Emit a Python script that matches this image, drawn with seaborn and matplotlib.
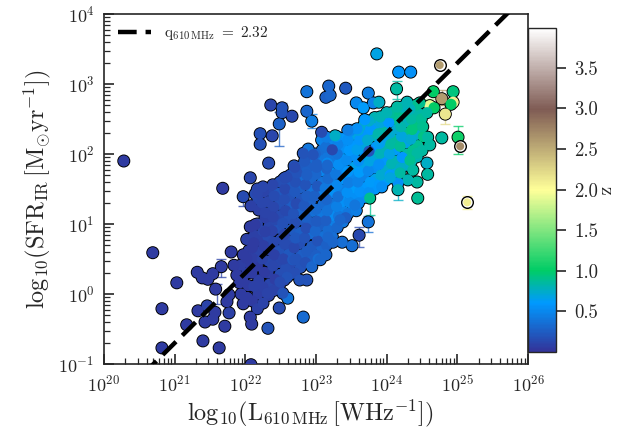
import numpy as np
import pandas as pd
import seaborn as sns
import matplotlib.pyplot as plt
from matplotlib import cm
from matplotlib.colors import Normalize
from matplotlib.ticker import LogLocator, NullFormatter

# log10(L_610MHz), log10(SFR_IR), redshift
log_l = [
    22.03, 22.04, 22.02, 22.03, 22.05, 22.02,
    22.18, 22.19, 22.17, 22.18, 22.2, 22.17, 22.19, 22.18, 22.17,
    22.33, 22.34, 22.32, 22.33, 22.35, 22.32, 22.34, 22.33, 22.32, 22.34,
    22.48, 22.49, 22.47, 22.48, 22.5, 22.47, 22.49, 22.48, 22.47, 22.49,
    22.63, 22.64, 22.62, 22.63, 22.65, 22.62, 22.64, 22.63, 22.62, 22.64,
    22.78, 22.79, 22.77, 22.78, 22.8, 22.77, 22.79, 22.78, 22.77, 22.79,
    22.93, 22.94, 22.92, 22.93, 22.95, 22.92, 22.94, 22.93, 22.92, 22.94,
    23.08, 23.09, 23.07, 23.08, 23.1, 23.07, 23.09, 23.08, 23.07, 23.09, 23.08,
    23.23, 23.24, 23.22, 23.23, 23.25, 23.22, 23.24, 23.23, 23.22, 23.24,
    23.38, 23.39, 23.37, 23.38, 23.4, 23.37, 23.39, 23.38, 23.37,
    23.53, 23.54, 23.52, 23.53, 23.55, 23.52, 23.54, 23.53,
    23.68, 23.69, 23.67, 23.68, 23.7, 23.67, 23.69, 23.68,
    23.83, 23.84, 23.82, 23.83, 23.85, 23.82, 23.84, 23.83,
    23.98, 23.99, 23.97, 23.98, 24.0, 23.97, 23.99,
    24.13, 24.14, 24.12, 24.13, 24.15, 24.12, 24.14,
    24.28, 24.29, 24.27, 24.28, 24.3, 24.27, 24.29,
    24.43, 24.44, 24.42, 24.43, 24.45, 24.42,
    21.94, 21.96, 21.93, 21.97,
    22.1, 22.12, 22.09, 22.11, 22.1, 22.13,
    22.25, 22.27, 22.24, 22.26, 22.25, 22.28, 22.24, 22.26,
    22.4, 22.42, 22.39, 22.41, 22.4, 22.38, 22.42, 22.4, 22.41, 22.39,
    22.55, 22.57, 22.54, 22.56, 22.55, 22.53, 22.57, 22.55, 22.56, 22.54,
    22.7, 22.72, 22.69, 22.71, 22.7, 22.68, 22.72, 22.7, 22.71, 22.69,
    22.85, 22.87, 22.84, 22.86, 22.85, 22.83, 22.87, 22.85, 22.86, 22.84,
    23.0, 23.02, 22.99, 23.01, 23.0, 22.98, 23.02, 23.0, 23.01, 22.99,
    23.15, 23.17, 23.14, 23.16, 23.15, 23.13, 23.17, 23.15, 23.16, 23.14, 23.15,
    23.3, 23.32, 23.29, 23.31, 23.3, 23.28, 23.32, 23.3, 23.31, 23.29,
    23.45, 23.47, 23.44, 23.46, 23.45, 23.43, 23.47, 23.45,
    23.6, 23.62, 23.59, 23.61, 23.6, 23.58, 23.62, 23.6,
    23.75, 23.77, 23.74, 23.76, 23.75, 23.73, 23.77, 23.75,
    23.9, 23.92, 23.89, 23.91, 23.9, 23.88, 23.92,
    24.05, 24.07, 24.04, 24.06, 24.05, 24.03, 24.07,
    24.2, 24.22, 24.19, 24.21, 24.2, 24.18, 24.22,
    24.35, 24.37, 24.34, 24.36, 24.35, 24.33,
    24.5, 24.52, 24.49,
    20.28, 22.36, 22.52, 22.52, 22.66, 22.48, 22.21, 22.38, 22.21, 22.87,
    22.87, 22.94, 22.33, 22.69, 22.07, 21.68, 21.97, 22.08, 22.14, 22.07,
    22.14, 22.28, 22.12, 20.69, 21.8, 21.03, 21.32, 21.39, 21.47, 21.54,
    21.66, 21.84, 21.88, 21.58, 21.77, 21.46, 21.74, 20.82, 21.33, 21.57,
    21.77, 21.17, 21.43, 21.54, 21.71, 21.4, 20.82, 21.63, 22.07, 22.09,
    22.32, 22.08, 21.97, 22.17, 22.48, 22.6, 22.82, 22.77, 22.87, 22.94,
    23.03, 22.67, 23.86, 24.17, 24.34, 24.14, 23.18, 23.42, 23.14, 23.2,
    23.74, 23.57, 23.67, 23.81, 23.89, 24.66, 24.94, 24.78, 24.94, 24.91,
    24.61, 24.67, 24.83, 24.78, 25.01, 24.58, 24.43, 24.3, 24.16, 24.44,
    24.16, 23.74, 23.61, 23.57, 23.51, 23.37, 23.24, 23.76, 23.14, 23.06,
    23.42, 23.27, 23.23, 23.08, 23.16, 23.48, 23.58,
    23.91, 24.0, 24.15, 24.29, 24.47, 24.57, 24.51, 24.58, 24.61, 24.43,
    24.57, 24.33, 24.37, 24.19, 24.05, 23.93, 23.69, 23.45,
    22.28, 22.39, 22.17, 22.25, 22.02, 21.92, 22.59, 22.73, 23.01, 22.89,
    22.82, 22.96, 22.87, 23.16, 22.7, 22.56,
    22.7, 22.59, 22.49, 22.53, 22.31, 22.25, 23.34, 23.17, 23.55,
]
log_sfr = [
    -0.05, 0.12, 0.3, 0.45, 0.62, 0.78,
    0.0, 0.2, 0.4, 0.6, 0.78, 1.0, 1.2, 1.35, 1.5,
    -0.02, 0.14, 0.3, 0.47, 0.63, 0.82, 0.98, 1.16, 1.32, 1.48,
    0.12, 0.28, 0.45, 0.62, 0.78, 0.94, 1.12, 1.28, 1.44, 1.6,
    0.28, 0.43, 0.58, 0.76, 0.92, 1.08, 1.26, 1.4, 1.55, 1.7,
    0.38, 0.56, 0.72, 0.88, 1.06, 1.2, 1.36, 1.52, 1.68, 1.82,
    0.5, 0.68, 0.86, 1.02, 1.18, 1.32, 1.48, 1.64, 1.8, 1.95,
    0.64, 0.82, 0.98, 1.12, 1.28, 1.44, 1.6, 1.76, 1.92, 2.06, 2.2,
    0.82, 0.98, 1.12, 1.28, 1.44, 1.58, 1.72, 1.88, 2.02, 2.16,
    1.03, 1.18, 1.32, 1.48, 1.64, 1.78, 1.92, 2.08, 2.22,
    1.22, 1.38, 1.52, 1.68, 1.82, 1.98, 2.12, 2.28,
    1.38, 1.52, 1.68, 1.82, 1.98, 2.12, 2.28, 2.42,
    1.5, 1.64, 1.8, 1.96, 2.1, 2.26, 2.4, 2.52,
    1.62, 1.78, 1.92, 2.08, 2.22, 2.38, 2.52,
    1.74, 1.9, 2.06, 2.2, 2.36, 2.5, 2.63,
    1.84, 2.0, 2.16, 2.3, 2.46, 2.6, 2.72,
    1.96, 2.12, 2.28, 2.42, 2.58, 2.7,
    0.0, 0.2, 0.41, 0.56,
    -0.1, 0.11, 0.3, 0.5, 0.66, 0.84,
    0.1, 0.31, 0.5, 0.69, 0.9, 1.09, 1.3, 1.46,
    0.05, 0.21, 0.4, 0.56, 0.74, 0.9, 1.06, 1.24, 1.4, 1.56,
    0.2, 0.36, 0.5, 0.71, 0.85, 1.01, 1.19, 1.35, 1.5, 1.64,
    0.3, 0.5, 0.66, 0.8, 1.01, 1.15, 1.29, 1.46, 1.6, 1.74,
    0.45, 0.61, 0.8, 0.94, 1.1, 1.26, 1.4, 1.56, 1.74, 1.9,
    0.55, 0.76, 0.9, 1.04, 1.21, 1.4, 1.54, 1.71, 1.85, 2.0,
    0.7, 0.91, 1.05, 1.19, 1.35, 1.51, 1.65, 1.79, 1.95, 2.1, 2.24,
    0.95, 1.11, 1.25, 1.39, 1.55, 1.71, 1.85, 2.0, 2.14, 2.25,
    1.15, 1.31, 1.45, 1.59, 1.75, 1.91, 2.05, 2.2,
    1.3, 1.46, 1.6, 1.74, 1.9, 2.06, 2.2, 2.34,
    1.45, 1.6, 1.76, 1.9, 2.04, 2.2, 2.35, 2.47,
    1.56, 1.7, 1.85, 2.01, 2.15, 2.29, 2.45,
    1.7, 1.86, 2.0, 2.14, 2.3, 2.45, 2.59,
    1.8, 1.95, 2.11, 2.25, 2.39, 2.55, 2.67,
    1.9, 2.05, 2.21, 2.35, 2.5, 2.64,
    2.05, 2.25, 2.5,
    1.9, 2.7, 2.66, 2.59, 2.54, 2.43, 2.29, 2.26, 2.14, 2.89,
    2.61, 2.47, 1.87, 1.83, 1.66, 1.51, 1.39, 1.26, 1.43, 0.96,
    0.99, 0.89, 0.73, 0.59, 0.6, 0.16, 0.31, 0.23, 0.21, 0.29,
    0.39, 0.41, 0.27, 0.07, -0.01, -0.17, -0.11, -0.21, -0.24, -0.26,
    -0.27, -0.44, -0.4, -0.36, -0.46, -0.67, -0.77, -0.77, -0.33, -0.43,
    -0.49, -1.01, -0.14, -0.21, -0.2, -0.06, -0.33, 0.2, 0.2, 0.39,
    0.5, 0.49, 3.43, 3.17, 3.17, 2.93, 2.97, 2.94, 2.81, 2.84,
    2.87, 2.73, 2.66, 2.73, 2.74, 2.89, 2.89, 2.79, 2.74, 2.71,
    2.69, 2.66, 2.57, 2.23, 2.24, 1.71, 1.6, 1.63, 1.59, 1.37,
    1.49, 1.03, 0.84, 1.19, 0.69, 0.74, 0.74, 1.37, 0.56, 0.49,
    1.09, 2.26, 2.06, 2.31, 1.87, 2.33, 2.36,
    2.53, 2.59, 2.67, 2.74, 2.73, 2.59, 2.39, 2.24, 2.13, 2.01,
    1.87, 1.91, 1.77, 1.73, 1.66, 1.53, 2.49, 2.34,
    1.16, 1.1, 1.44, 1.53, 0.51, 0.16, 1.67, 1.73, 1.81, 2.07,
    2.01, 1.99, 1.7, 1.84, 1.81, 1.66,
    0.49, 0.24, 0.17, 0.01, 0.01, -0.13, 1.06, 0.81, 1.27,
]
redshift = [
    0.06, 0.05, 0.08, 0.06, 0.07, 0.09,
    0.07, 0.09, 0.06, 0.1, 0.08, 0.12, 0.09, 0.13, 0.11,
    0.09, 0.12, 0.08, 0.14, 0.1, 0.15, 0.11, 0.16, 0.12, 0.14,
    0.12, 0.17, 0.13, 0.19, 0.14, 0.2, 0.15, 0.18, 0.22, 0.16,
    0.18, 0.15, 0.22, 0.17, 0.24, 0.19, 0.26, 0.2, 0.23, 0.18,
    0.2, 0.26, 0.18, 0.28, 0.23, 0.3, 0.21, 0.27, 0.33, 0.24,
    0.28, 0.24, 0.33, 0.26, 0.36, 0.29, 0.38, 0.3, 0.26, 0.34,
    0.3, 0.36, 0.28, 0.42, 0.33, 0.46, 0.38, 0.5, 0.42, 0.35, 0.48,
    0.35, 0.44, 0.52, 0.38, 0.55, 0.46, 0.58, 0.42, 0.6, 0.5,
    0.4, 0.48, 0.56, 0.44, 0.6, 0.5, 0.62, 0.54, 0.58,
    0.45, 0.55, 0.62, 0.5, 0.66, 0.56, 0.6, 0.68,
    0.52, 0.6, 0.48, 0.66, 0.56, 0.7, 0.58, 0.72,
    0.58, 0.66, 0.54, 0.72, 0.6, 0.78, 0.66, 0.8,
    0.62, 0.74, 0.58, 0.8, 0.68, 0.85, 0.72,
    0.68, 0.8, 0.62, 0.86, 0.72, 0.9, 0.8,
    0.74, 0.85, 0.66, 0.9, 0.78, 0.92, 0.84,
    0.8, 0.88, 0.74, 0.93, 0.84, 0.9,
    0.06, 0.05, 0.07, 0.05,
    0.06, 0.08, 0.05, 0.07, 0.06, 0.09,
    0.08, 0.06, 0.1, 0.07, 0.11, 0.08, 0.12, 0.1,
    0.1, 0.07, 0.12, 0.09, 0.14, 0.1, 0.13, 0.11, 0.15, 0.12,
    0.13, 0.16, 0.11, 0.15, 0.12, 0.18, 0.14, 0.17, 0.13, 0.16,
    0.16, 0.2, 0.14, 0.22, 0.17, 0.19, 0.15, 0.23, 0.18, 0.2,
    0.18, 0.24, 0.2, 0.16, 0.27, 0.22, 0.25, 0.19, 0.28, 0.23,
    0.25, 0.2, 0.3, 0.24, 0.33, 0.27, 0.22, 0.31, 0.26, 0.3,
    0.28, 0.33, 0.25, 0.38, 0.3, 0.42, 0.34, 0.29, 0.4, 0.36, 0.44,
    0.32, 0.4, 0.46, 0.36, 0.5, 0.42, 0.53, 0.38, 0.48, 0.55,
    0.42, 0.5, 0.56, 0.45, 0.58, 0.52, 0.6, 0.55,
    0.5, 0.57, 0.48, 0.62, 0.55, 0.64, 0.58, 0.7,
    0.55, 0.62, 0.5, 0.68, 0.2, 0.72, 0.6, 0.74,
    0.6, 0.72, 0.56, 0.78, 0.65, 0.82, 0.7,
    0.62, 0.8, 0.68, 0.85, 0.72, 0.6, 0.86,
    0.75, 0.6, 0.88, 0.7, 0.82, 0.9, 0.78,
    0.8, 0.9, 0.72, 0.95, 0.85, 0.78,
    0.85, 0.92, 0.88,
    0.05, 0.12, 0.2, 0.2, 0.13, 0.28, 0.18, 0.12, 0.18, 0.38,
    0.3, 0.45, 0.15, 0.2, 0.12, 0.05, 0.15, 0.08, 0.15, 0.05,
    0.05, 0.08, 0.05, 0.05, 0.05, 0.05, 0.05, 0.05, 0.05, 0.05,
    0.06, 0.05, 0.05, 0.05, 0.06, 0.1, 0.05, 0.05, 0.05, 0.05,
    0.08, 0.05, 0.05, 0.05, 0.05, 0.05, 0.05, 0.05, 0.06, 0.05,
    0.2, 0.05, 0.05, 0.08, 0.15, 0.38, 0.33, 0.2, 0.2, 0.3,
    0.35, 0.22, 0.68, 0.58, 0.55, 0.85, 0.3, 0.22, 0.28, 0.3,
    0.45, 0.5, 0.62, 0.48, 0.75, 1.0, 0.95, 2.6, 2.1, 1.0,
    1.9, 1.0, 2.15, 0.85, 1.05, 0.85, 0.85, 0.8, 0.55, 0.88,
    0.8, 0.38, 0.14, 0.45, 0.35, 0.35, 0.3, 0.9, 0.3, 0.3,
    0.25, 0.75, 0.13, 0.15, 0.5, 0.5, 0.55,
    0.8, 0.8, 0.85, 0.8, 0.9, 0.85, 0.9, 0.85, 0.85, 0.85,
    0.75, 0.9, 0.85, 0.85, 0.7, 0.55, 0.6, 0.45,
    0.1, 0.1, 0.12, 0.12, 0.05, 0.05, 0.15, 0.2, 0.25, 0.4,
    0.2, 0.2, 0.25, 0.3, 0.15, 0.15,
    0.2, 0.2, 0.15, 0.2, 0.1, 0.1, 0.3, 0.3, 0.4,
]

# the three ringed high-z sources
ring_l = [24.75, 25.04, 25.14]
ring_sfr = [3.27, 2.11, 1.31]
ring_z = [2.6, 2.7, 2.1]

# error bars: position, lower and upper end, redshift
err_l = [22.52, 22.48, 22.94, 21.97, 21.66, 21.6, 23.61, 23.74, 23.76, 24.16,
         24.14, 25.01, 24.83, 24.78, 23.48, 25.14, 24.62]
err_low = [2.57, 2.11, 2.37, 1.26, 0.24, -0.14, 0.67, 0.89, 1.13, 1.34,
           2.79, 2.0, 2.43, 2.7, 2.2, 1.22, 2.65]
err_high = [2.73, 2.6, 2.57, 1.46, 0.5, 0.14, 0.96, 1.11, 1.5, 1.6,
            3.04, 2.4, 2.7, 2.91, 2.43, 1.4, 2.78]
err_z = [0.2, 0.28, 0.45, 0.12, 0.1, 0.1, 0.15, 0.35, 0.9, 0.75,
         0.85, 1.0, 2.2, 2.6, 0.45, 2.1, 1.7]

q_610 = 2.32
z_min, z_max = 0.0, 3.99
tick_z = [0.5, 1.0, 1.5, 2.0, 2.5, 3.0, 3.5]

sns.set_style('ticks')
plt.rcParams['font.family'] = ['cmr10', 'DejaVu Sans']
plt.rcParams['mathtext.fontset'] = 'cm'
plt.rcParams['axes.formatter.use_mathtext'] = True
plt.rcParams['axes.unicode_minus'] = False

df = pd.DataFrame({'L': 10.0 ** np.array(log_l),
                   'SFR': 10.0 ** np.array(log_sfr),
                   'z': redshift})
rings = pd.DataFrame({'L': 10.0 ** np.array(ring_l),
                      'SFR': 10.0 ** np.array(ring_sfr),
                      'z': ring_z})

W, H = 644, 432
fig = plt.figure(figsize=(W / 100, H / 100), dpi=100)
ax = fig.add_axes([104 / W, 1 - 364 / H, 424 / W, 350 / H])
cax = fig.add_axes([528 / W, 1 - 352 / H, 28 / W, 324 / H])

norm = Normalize(z_min, z_max)
cmap = plt.get_cmap('terrain')

# error bars go under everything
for x, lo, hi, z in zip(err_l, err_low, err_high, err_z):
    ax.errorbar([10.0 ** x], [10.0 ** ((lo + hi) / 2)],
                yerr=[[10.0 ** ((lo + hi) / 2) - 10.0 ** lo],
                      [10.0 ** hi - 10.0 ** ((lo + hi) / 2)]],
                fmt='none', ecolor=cmap(norm(z)), elinewidth=1.0,
                capsize=3.5, capthick=1.0, alpha=0.75, zorder=1)

# black outline layer, then the same points without edge on top
sns.scatterplot(data=df, x='L', y='SFR', ax=ax, hue='z', palette='terrain',
                hue_norm=(z_min, z_max), s=70, edgecolor='black',
                linewidth=1.0, legend=False, zorder=2)
sns.scatterplot(data=df, x='L', y='SFR', ax=ax, hue='z', palette='terrain',
                hue_norm=(z_min, z_max), s=64, edgecolor='none',
                linewidth=0, legend=False, zorder=3)
sns.scatterplot(data=rings, x='L', y='SFR', ax=ax, color='white', s=70,
                edgecolor='black', linewidth=1.0, legend=False, zorder=4)
sns.scatterplot(data=rings, x='L', y='SFR', ax=ax, hue='z', palette='terrain',
                hue_norm=(z_min, z_max), s=34, edgecolor='none',
                linewidth=0, legend=False, zorder=5)

# radio-FIR relation
line_l = np.array([1e20, 1e26])
line_sfr = line_l * 10.0 ** (q_610 - 24.02)
ax.plot(line_l, line_sfr, color='black', lw=3.2, linestyle=(0, (4.2, 2.0)),
        dash_capstyle='butt', zorder=6,
        label=r'$\mathrm{q_{610\,MHz}}\ =\ \mathrm{2.32}$')

ax.set_xscale('log')
ax.set_yscale('log')
ax.set_xlim(1e20, 1e26)
ax.set_ylim(1e-1, 1e4)
ax.set_xlabel(r'$\mathrm{log_{10}(L_{610\,MHz}\,[WHz^{-1}])}$', fontsize=17.5, labelpad=2)
ax.set_ylabel(r'$\mathrm{log_{10}(SFR_{IR}\,[M_{\odot}yr^{-1}])}$', fontsize=17.5, labelpad=4)
ax.xaxis.set_label_coords(0.486, -0.085, transform=ax.transAxes) if False else None
ax.xaxis.label.set_x(0.486)

for axis in (ax.xaxis, ax.yaxis):
    axis.set_major_locator(LogLocator(base=10, numticks=12))
    axis.set_minor_locator(LogLocator(base=10, subs=np.arange(2, 10), numticks=12))
    axis.set_minor_formatter(NullFormatter())
ax.tick_params(which='major', direction='in', length=7, width=1.2, labelsize=13, pad=7)
ax.tick_params(which='minor', direction='in', length=4, width=0.9)
for side in ax.spines.values():
    side.set_linewidth(1.2)
    side.set_visible(True)

ax.legend(loc='upper left', bbox_to_anchor=(0.0, 1.01), frameon=False,
          fontsize=11, handlelength=2.2)

cb = fig.colorbar(cm.ScalarMappable(norm=norm, cmap=cmap), cax=cax)
cb.set_ticks(tick_z)
cb.set_ticklabels([f'{t:.1f}' for t in tick_z])
cb.ax.tick_params(which='major', direction='out', length=7, width=1.2, labelsize=13.5, pad=6)
cb.ax.minorticks_off()
cb.outline.set_linewidth(1.0)
cb.set_label('z', fontsize=14, rotation=270, labelpad=12)

fig.savefig('out.png', dpi=100)
